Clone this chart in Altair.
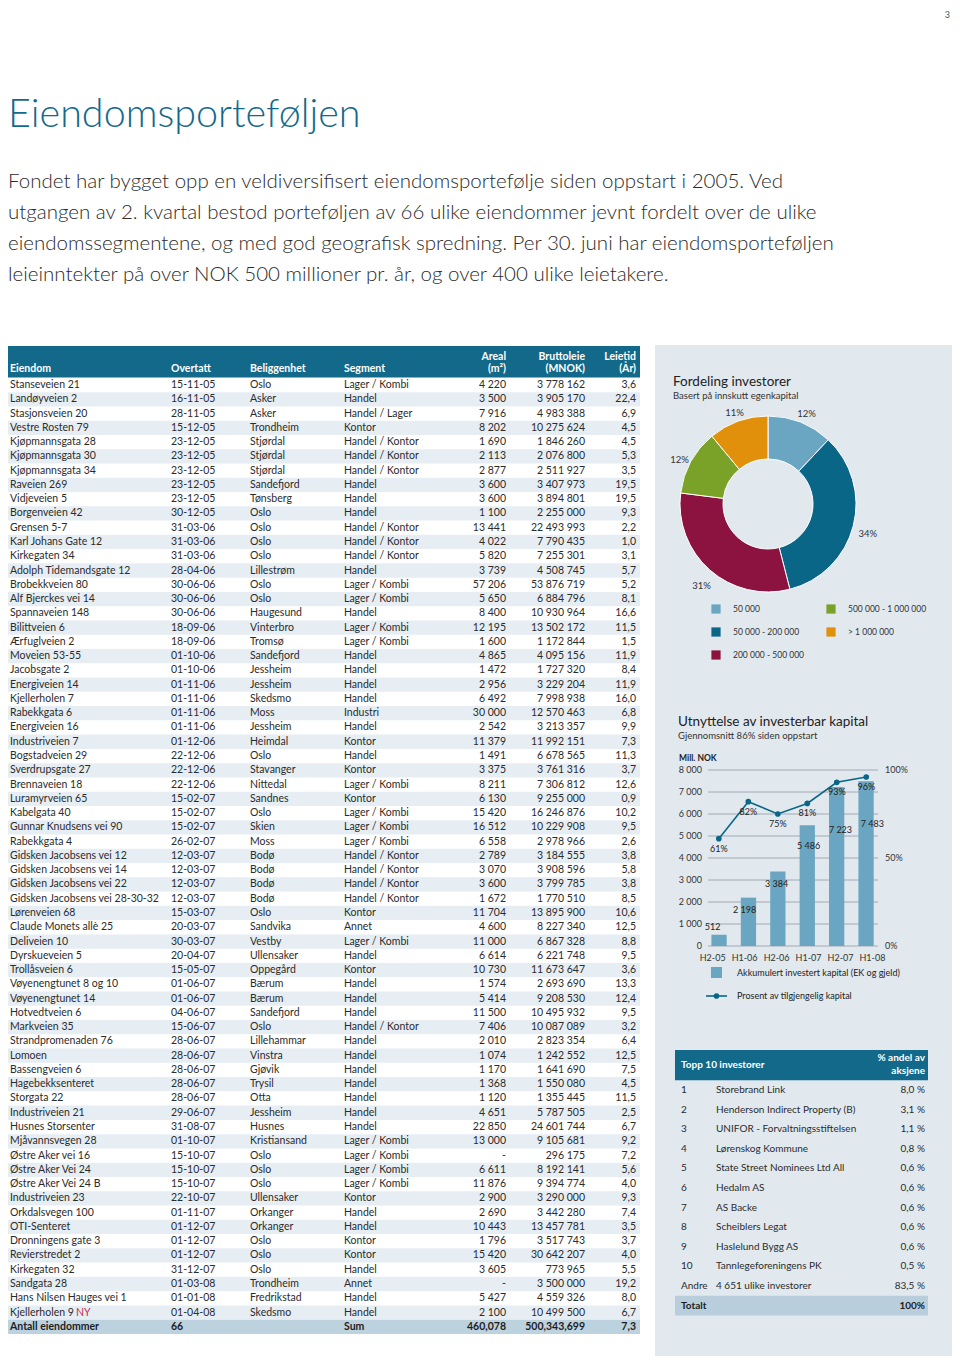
import altair as alt
import pandas as pd

FONT = "Lato"
TEAL = "#13698a"
TXT = "#2b2b2b"
PANEL = "#e1e9ef"

# ---------------- text ----------------
page_title = "Eiendomsporteføljen"
intro_lines = [
    "Fondet har bygget opp en veldiversifisert eiendomsportefølje siden oppstart i 2005. Ved",
    "utgangen av 2. kvartal bestod porteføljen av 66 ulike eiendommer jevnt fordelt over de ulike",
    "eiendomssegmentene, og med god geografisk spredning. Per 30. juni har eiendomsporteføljen",
    "leieinntekter på over NOK 500 millioner pr. år, og over 400 ulike leietakere.",
]

# ---------------- main table ----------------
eiendom = [
    "Stanseveien 21", "Landøyveien 2", "Stasjonsveien 20", "Vestre Rosten 79", "Kjøpmannsgata 28",
    "Kjøpmannsgata 30", "Kjøpmannsgata 34", "Raveien 269", "Vidjeveien 5", "Borgenveien 42",
    "Grensen 5-7", "Karl Johans Gate 12", "Kirkegaten 34", "Adolph Tidemandsgate 12", "Brobekkveien 80",
    "Alf Bjerckes vei 14", "Spannaveien 148", "Bilittveien 6", "Ærfuglveien 2", "Moveien 53-55",
    "Jacobsgate 2", "Energiveien 14", "Kjellerholen 7", "Rabekkgata 6", "Energiveien 16",
    "Industriveien 7", "Bogstadveien 29", "Sverdrupsgate 27", "Brennaveien 18", "Luramyrveien 65",
    "Kabelgata 40", "Gunnar Knudsens vei 90", "Rabekkgata 4", "Gidsken Jacobsens vei 12",
    "Gidsken Jacobsens vei 14", "Gidsken Jacobsens vei 22", "Gidsken Jacobsens vei 28-30-32",
    "Lørenveien 68", "Claude Monets allè 25", "Deliveien 10", "Dyrskueveien 5", "Trollåsveien 6",
    "Vøyenengtunet 8 og 10", "Vøyenengtunet 14", "Hotvedtveien 6", "Markveien 35",
    "Strandpromenaden 76", "Lomoen", "Bassengveien 6", "Hagebekksenteret", "Storgata 22",
    "Industriveien 21", "Husnes Storsenter", "Mjåvannsvegen 28", "Østre Aker vei 16",
    "Østre Aker Vei 24", "Østre Aker Vei 24 B", "Industriveien 23", "Orkdalsvegen 100",
    "OTI-Senteret", "Dronningens gate 3", "Revierstredet 2", "Kirkegaten 32", "Sandgata 28",
    "Hans Nilsen Hauges vei 1", "Kjellerholen 9",
]
overtatt = [
    "15-11-05", "16-11-05", "28-11-05", "15-12-05", "23-12-05", "23-12-05", "23-12-05", "23-12-05",
    "23-12-05", "30-12-05", "31-03-06", "31-03-06", "31-03-06", "28-04-06", "30-06-06", "30-06-06",
    "30-06-06", "18-09-06", "18-09-06", "01-10-06", "01-10-06", "01-11-06", "01-11-06", "01-11-06",
    "01-11-06", "01-12-06", "22-12-06", "22-12-06", "22-12-06", "15-02-07", "15-02-07", "15-02-07",
    "26-02-07", "12-03-07", "12-03-07", "12-03-07", "12-03-07", "15-03-07", "20-03-07", "30-03-07",
    "20-04-07", "15-05-07", "01-06-07", "01-06-07", "04-06-07", "15-06-07", "28-06-07", "28-06-07",
    "28-06-07", "28-06-07", "28-06-07", "29-06-07", "31-08-07", "01-10-07", "15-10-07", "15-10-07",
    "15-10-07", "22-10-07", "01-11-07", "01-12-07", "01-12-07", "01-12-07", "31-12-07", "01-03-08",
    "01-01-08", "01-04-08",
]
beliggenhet = [
    "Oslo", "Asker", "Asker", "Trondheim", "Stjørdal", "Stjørdal", "Stjørdal", "Sandefjord",
    "Tønsberg", "Oslo", "Oslo", "Oslo", "Oslo", "Lillestrøm", "Oslo", "Oslo", "Haugesund",
    "Vinterbro", "Tromsø", "Sandefjord", "Jessheim", "Jessheim", "Skedsmo", "Moss", "Jessheim",
    "Heimdal", "Oslo", "Stavanger", "Nittedal", "Sandnes", "Oslo", "Skien", "Moss", "Bodø", "Bodø",
    "Bodø", "Bodø", "Oslo", "Sandvika", "Vestby", "Ullensaker", "Oppegård", "Bærum", "Bærum",
    "Sandefjord", "Oslo", "Lillehammar", "Vinstra", "Gjøvik", "Trysil", "Otta", "Jessheim",
    "Husnes", "Kristiansand", "Oslo", "Oslo", "Oslo", "Ullensaker", "Orkanger", "Orkanger", "Oslo",
    "Oslo", "Oslo", "Trondheim", "Fredrikstad", "Skedsmo",
]
segment = [
    "Lager / Kombi", "Handel", "Handel / Lager", "Kontor", "Handel / Kontor", "Handel / Kontor",
    "Handel / Kontor", "Handel", "Handel", "Handel", "Handel / Kontor", "Handel / Kontor",
    "Handel / Kontor", "Handel", "Lager / Kombi", "Lager / Kombi", "Handel", "Lager / Kombi",
    "Lager / Kombi", "Handel", "Handel", "Handel", "Handel", "Industri", "Handel", "Kontor",
    "Handel", "Kontor", "Lager / Kombi", "Kontor", "Lager / Kombi", "Lager / Kombi", "Lager / Kombi",
    "Handel / Kontor", "Handel / Kontor", "Handel / Kontor", "Handel / Kontor", "Kontor", "Annet",
    "Lager / Kombi", "Handel", "Kontor", "Handel", "Handel", "Handel", "Handel / Kontor", "Handel",
    "Handel", "Handel", "Handel", "Handel", "Handel", "Handel", "Lager / Kombi", "Lager / Kombi",
    "Lager / Kombi", "Lager / Kombi", "Kontor", "Handel", "Handel", "Kontor", "Kontor", "Handel",
    "Annet", "Handel", "Handel",
]
areal = [
    4220, 3500, 7916, 8202, 1690, 2113, 2877, 3600, 3600, 1100, 13441, 4022, 5820, 3739, 57206,
    5650, 8400, 12195, 1600, 4865, 1472, 2956, 6492, 30000, 2542, 11379, 1491, 3375, 8211, 6130,
    15420, 16512, 6558, 2789, 3070, 3600, 1672, 11704, 4600, 11000, 6614, 10730, 1574, 5414, 11500,
    7406, 2010, 1074, 1170, 1368, 1120, 4651, 22850, 13000, None, 6611, 11876, 2900, 2690, 10443,
    1796, 15420, 3605, None, 5427, 2100,
]
bruttoleie = [
    3778162, 3905170, 4983388, 10275624, 1846260, 2076800, 2511927, 3407973, 3894801, 2255000,
    22493993, 7790435, 7255301, 4508745, 53876719, 6884796, 10930964, 13502172, 1172844, 4095156,
    1727320, 3229204, 7998938, 12570463, 3213357, 11992151, 6678565, 3761316, 7306812, 9255000,
    16246876, 10229908, 2978966, 3184555, 3908596, 3799785, 1770510, 13895900, 8227340, 6867328,
    6221748, 11673647, 2693690, 9208530, 10495932, 10087089, 2823354, 1242552, 1641690, 1550080,
    1355445, 5787505, 24601744, 9105681, 296175, 8192141, 9394774, 3290000, 3442280, 13457781,
    3517743, 30642207, 773965, 3500000, 4559326, 10499500,
]
leietid = [
    3.6, 22.4, 6.9, 4.5, 4.5, 5.3, 3.5, 19.5, 19.5, 9.3, 2.2, 1.0, 3.1, 5.7, 5.2, 8.1, 16.6, 11.5,
    1.5, 11.9, 8.4, 11.9, 16.0, 6.8, 9.9, 7.3, 11.3, 3.7, 12.6, 0.9, 10.2, 9.5, 2.6, 3.8, 5.8, 3.8,
    8.5, 10.6, 12.5, 8.8, 9.5, 3.6, 13.3, 12.4, 9.5, 3.2, 6.4, 12.5, 7.5, 4.5, 11.5, 2.5, 6.7, 9.2,
    7.2, 5.6, 4.0, 9.3, 7.4, 3.5, 3.7, 4.0, 5.5, 19.2, 8.0, 6.7,
]
sum_row = ["Antall eiendommer", "66", "", "Sum", "460,078", "500,343,699", "7,3"]
new_flag_row = 65

# ---------------- donut ----------------
donut_labels = ["50 000", "50 000 - 200 000", "200 000 - 500 000", "500 000 - 1 000 000", "> 1 000 000"]
donut_share = [12, 34, 31, 12, 11]
donut_colors = ["#6aa6c1", "#0a6686", "#8c1340", "#7aa229", "#e0900a"]

# ---------------- bar + line ----------------
periods = ["H2-05", "H1-06", "H2-06", "H1-07", "H2-07", "H1-08"]
capital = [512, 2198, 3384, 5486, 7223, 7483]
pct = [61, 82, 75, 81, 93, 96]
cap_ticks = [0, 1000, 2000, 3000, 4000, 5000, 6000, 7000, 8000]
pct_ticks = [0, 50, 100]

# ---------------- top 10 ----------------
top_rank = ["1", "2", "3", "4", "5", "6", "7", "8", "9", "10", "Andre"]
top_name = ["Storebrand Link", "Henderson Indirect Property (B)", "UNIFOR - Forvaltningsstiftelsen",
            "Lørenskog Kommune", "State Street Nominees Ltd All", "Hedalm AS", "AS Backe",
            "Scheiblers Legat", "Haslelund Bygg AS", "Tannlegeforeningens PK", "4 651 ulike investorer"]
top_share = [8.0, 3.1, 1.1, 0.8, 0.6, 0.6, 0.6, 0.6, 0.6, 0.5, 83.5]


def fmt_int(v):
    return "-" if v is None else f"{v:,}".replace(",", " ")


def fmt_dec(v):
    return f"{v:.1f}".replace(".", ",")


one = pd.DataFrame({"k": [0]})
L = []


def deco_rect(x0, x1, y0, y1, color):
    return alt.Chart(one).mark_rect(color=color).encode(
        x=alt.value(x0), x2=alt.value(x1), y=alt.value(y0), y2=alt.value(y1))


def label(text, x, y, size, color=TXT, align="left", weight="normal"):
    d = pd.DataFrame({"t": [text]})
    return alt.Chart(d).mark_text(align=align, baseline="middle", fontSize=size, color=color,
                                  fontWeight=weight, font=FONT).encode(
        x=alt.value(x), y=alt.value(y), text="t:N")


# page number, title, intro
L.append(label("3", 942, 7, 9, color="#555", align="right"))
L.append(label(page_title, 0, 107, 39.5, color=TEAL, weight=300))
intro = pd.DataFrame({"line": list(range(len(intro_lines))), "t": intro_lines})
L.append(alt.Chart(intro).mark_text(align="left", baseline="middle", fontSize=20.5, color=TXT,
                                    font=FONT, fontWeight=300).encode(
    x=alt.value(0),
    y=alt.Y("line:Q", scale=alt.Scale(domain=[0, 3], range=[174, 267], nice=False, zero=False), axis=None),
    text="t:N"))

# right panel background
L.append(deco_rect(647, 944, 337, 1356, PANEL))

# ---- main table ----
tbl = pd.DataFrame({
    "i": list(range(66)),
    "Eiendom": eiendom, "Overtatt": overtatt, "Beliggenhet": beliggenhet, "Segment": segment,
    "Areal": [fmt_int(v) for v in areal],
    "Bruttoleie": [fmt_int(v) for v in bruttoleie],
    "Leietid": [fmt_dec(v) for v in leietid],
})
tbl["lo"] = tbl["i"] - 0.5
tbl["hi"] = tbl["i"] + 0.5
cols = ["Eiendom", "Overtatt", "Beliggenhet", "Segment", "Areal", "Bruttoleie", "Leietid"]
sumdf = pd.DataFrame({c: [v] for c, v in zip(cols, sum_row)})
sumdf["i"] = 66
sumdf["lo"] = 65.5
sumdf["hi"] = 66.5

ROWSCALE = dict(domain=[0, 66], range=[377, 1318.8], nice=False, zero=False)

L.append(deco_rect(0, 632, 338, 369.5, TEAL))
L.append(alt.Chart(tbl).transform_filter("datum.i % 2 == 1").mark_rect(color="#e6eef4").encode(
    x=alt.value(0), x2=alt.value(632),
    y=alt.Y("lo:Q", scale=alt.Scale(**ROWSCALE), axis=None), y2="hi:Q"))
L.append(alt.Chart(sumdf).mark_rect(color="#bdd2df").encode(
    x=alt.value(0), x2=alt.value(632),
    y=alt.Y("lo:Q", scale=alt.Scale(**ROWSCALE), axis=None), y2="hi:Q"))

col_x = {"Eiendom": (2, "left"), "Overtatt": (163, "left"), "Beliggenhet": (242, "left"),
         "Segment": (336, "left"), "Areal": (498, "right"), "Bruttoleie": (577, "right"),
         "Leietid": (628, "right")}
two_line = {"Areal": ("Areal", "(m²)"), "Bruttoleie": ("Bruttoleie", "(MNOK)"), "Leietid": ("Leietid", "(År)")}

for c in cols:
    x, al = col_x[c]
    if c in two_line:
        L.append(label(two_line[c][0], x, 348.5, 10.5, color="white", align=al, weight="bold"))
        L.append(label(two_line[c][1], x, 361, 10.5, color="white", align=al, weight="bold"))
    else:
        L.append(label(c, x, 361, 10.5, color="white", align=al, weight="bold"))
    L.append(alt.Chart(tbl).mark_text(align=al, baseline="middle", fontSize=10.5, color=TXT,
                                      font=FONT).encode(
        x=alt.value(x),
        y=alt.Y("i:Q", scale=alt.Scale(**ROWSCALE), axis=None),
        text=f"{c}:N"))
    L.append(alt.Chart(sumdf).mark_text(align=al, baseline="middle", fontSize=10.5, color="#1d1d1d",
                                        font=FONT, fontWeight="bold").encode(
        x=alt.value(x),
        y=alt.Y("i:Q", scale=alt.Scale(**ROWSCALE), axis=None),
        text=f"{c}:N"))

newdf = pd.DataFrame({"i": [new_flag_row], "t": ["NY"]})
L.append(alt.Chart(newdf).mark_text(align="left", baseline="middle", fontSize=10.5, color="#c0304f",
                                    font=FONT).encode(
    x=alt.value(68), y=alt.Y("i:Q", scale=alt.Scale(**ROWSCALE), axis=None), text="t:N"))

# ---- donut ----
L.append(label("Fordeling investorer", 665, 374, 13.5, color="#222"))
L.append(label("Basert på innskutt egenkapital", 665, 388, 9.5, color="#333"))
dn = pd.DataFrame({"idx": list(range(5)), "label": donut_labels, "share": donut_share,
                   "pl": [f"{v}%" for v in donut_share]})
cscale = alt.Scale(domain=donut_labels, range=donut_colors)
L.append(alt.Chart(dn).mark_arc(innerRadius=45, outerRadius=88, stroke="white", strokeWidth=1).encode(
    x=alt.value(760), y=alt.value(496),
    theta=alt.Theta("share:Q", stack=True),
    color=alt.Color("label:N", scale=cscale, legend=None),
    order=alt.Order("idx:Q")))
L.append(alt.Chart(dn).mark_text(radius=102, fontSize=9.5, color="#333", font=FONT).encode(
    x=alt.value(761), y=alt.value(501),
    theta=alt.Theta("share:Q", stack=True),
    order=alt.Order("idx:Q"),
    text="pl:N"))
lg = pd.DataFrame({"label": donut_labels, "col": [0, 0, 0, 1, 1], "row": [0, 1, 2, 0, 1]})
lgx = alt.Scale(domain=[0, 1], range=[708, 823], nice=False, zero=False)
lgy = alt.Scale(domain=[0, 2], range=[601, 647], nice=False, zero=False)
L.append(alt.Chart(lg).mark_point(shape="square", filled=True, size=85, opacity=1).encode(
    x=alt.X("col:Q", scale=lgx, axis=None), y=alt.Y("row:Q", scale=lgy, axis=None),
    color=alt.Color("label:N", scale=cscale, legend=None)))
L.append(alt.Chart(lg).mark_text(align="left", baseline="middle", dx=17, fontSize=8.5, color="#333",
                                 font=FONT).encode(
    x=alt.X("col:Q", scale=lgx, axis=None), y=alt.Y("row:Q", scale=lgy, axis=None), text="label:N"))

# ---- bar + line chart ----
L.append(label("Utnyttelse av investerbar kapital", 670, 714, 13.5, color="#222"))
L.append(label("Gjennomsnitt 86% siden oppstart", 670, 728, 9.5, color="#333"))
L.append(label("Mill. NOK", 671, 750, 8.5, color="#222", weight="bold"))

YB = dict(domain=[0, 8000], range=[938, 762], nice=False, zero=True)
YP = dict(domain=[0, 100], range=[938, 762], nice=False, zero=True)
XB = dict(domain=periods, range=[688.7, 880.4], paddingInner=0.48, paddingOuter=0.5)
XP = dict(type="point", domain=periods, range=[688.7, 880.4], padding=0.75)

gt = pd.DataFrame({"v": cap_ticks, "t": [fmt_int(v) for v in cap_ticks]})
L.append(alt.Chart(gt).mark_rule(color="#8f9ba4", strokeWidth=0.8).encode(
    x=alt.value(700), x2=alt.value(870), y=alt.Y("v:Q", scale=alt.Scale(**YB), axis=None)))
L.append(alt.Chart(gt).mark_text(align="right", baseline="middle", fontSize=9, color="#333",
                                 font=FONT).encode(
    x=alt.value(694), y=alt.Y("v:Q", scale=alt.Scale(**YB), axis=None), text="t:N"))
pt = pd.DataFrame({"v": pct_ticks, "t": [f"{v}%" for v in pct_ticks]})
L.append(alt.Chart(pt).mark_text(align="left", baseline="middle", fontSize=9, color="#333",
                                 font=FONT).encode(
    x=alt.value(877), y=alt.Y("v:Q", scale=alt.Scale(**YP), axis=None), text="t:N"))

bd = pd.DataFrame({"p": periods, "cap": capital, "pct": pct,
                   "ct": [fmt_int(v) for v in capital], "pt": [f"{v}%" for v in pct]})
L.append(alt.Chart(bd).mark_bar(color="#6aa6c1").encode(
    x=alt.X("p:N", scale=alt.Scale(**XB), axis=None, sort=periods),
    y=alt.Y("cap:Q", scale=alt.Scale(**YB), axis=None)))
for cond, dy in [("datum.cap < 1000", -8), ("datum.cap >= 1000 && datum.cap < 5000", 12),
                 ("datum.cap >= 5000 && datum.cap < 7000", 21), ("datum.cap >= 7000", 43)]:
    L.append(alt.Chart(bd).transform_filter(cond).mark_text(
        baseline="middle", dy=dy, fontSize=9, color="#222", font=FONT).encode(
        x=alt.X("p:N", scale=alt.Scale(**XB), axis=None, sort=periods),
        y=alt.Y("cap:Q", scale=alt.Scale(**YB), axis=None), text="ct:N"))
L.append(alt.Chart(bd).mark_line(color="#0a6686", strokeWidth=1.6).encode(
    x=alt.X("p:N", scale=alt.Scale(**XP), axis=None, sort=periods),
    y=alt.Y("pct:Q", scale=alt.Scale(**YP), axis=None)))
L.append(alt.Chart(bd).mark_point(color="#0a6686", filled=True, size=32, opacity=1).encode(
    x=alt.X("p:N", scale=alt.Scale(**XP), axis=None, sort=periods),
    y=alt.Y("pct:Q", scale=alt.Scale(**YP), axis=None)))
L.append(alt.Chart(bd).mark_text(baseline="middle", dy=10, fontSize=9, color="#222", font=FONT).encode(
    x=alt.X("p:N", scale=alt.Scale(**XP), axis=None, sort=periods),
    y=alt.Y("pct:Q", scale=alt.Scale(**YP), axis=None), text="pt:N"))
L.append(alt.Chart(bd).mark_text(baseline="middle", fontSize=9, color="#333", font=FONT).encode(
    x=alt.X("p:N", scale=alt.Scale(**XB), axis=None, sort=periods),
    y=alt.value(950), text="p:N"))

# bar chart legend
L.append(deco_rect(703, 714, 959, 970, "#6aa6c1"))
L.append(label("Akkumulert investert kapital (EK og gjeld)", 729, 965, 9, color="#222"))
L.append(alt.Chart(one).mark_rule(color="#0a6686", strokeWidth=1.6).encode(
    x=alt.value(698), x2=alt.value(719), y=alt.value(988)))
L.append(alt.Chart(one).mark_point(color="#0a6686", filled=True, size=32, opacity=1).encode(
    x=alt.value(708.5), y=alt.value(988)))
L.append(label("Prosent av tilgjengelig kapital", 729, 988, 9, color="#222"))

# ---- top 10 table ----
top = pd.DataFrame({"i": list(range(11)), "r": top_rank, "n": top_name,
                    "s": [fmt_dec(v) + " %" for v in top_share]})
top["lo"] = top["i"] - 0.5
top["hi"] = top["i"] + 0.5
tot = pd.DataFrame({"i": [11], "lo": [10.5], "hi": [11.5], "r": ["Totalt"], "s": ["100%"]})
TS = dict(domain=[0, 11], range=[1082, 1297.6], nice=False, zero=False)

L.append(deco_rect(667, 920, 1042, 1072.2, TEAL))
L.append(label("Topp 10 investorer", 673, 1057, 10, color="white", weight="bold"))
L.append(label("% andel av", 917, 1050, 10, color="white", align="right", weight="bold"))
L.append(label("aksjene", 917, 1063, 10, color="white", align="right", weight="bold"))
L.append(alt.Chart(top).transform_calculate(odd="datum.i % 2").mark_rect().encode(
    x=alt.value(667), x2=alt.value(920),
    y=alt.Y("lo:Q", scale=alt.Scale(**TS), axis=None), y2="hi:Q",
    color=alt.Color("odd:N", scale=alt.Scale(domain=["0", "1"], range=["#ffffff", "#edf2f6"]),
                    legend=None)))
L.append(alt.Chart(tot).mark_rect(color="#b8cedc").encode(
    x=alt.value(667), x2=alt.value(920),
    y=alt.Y("lo:Q", scale=alt.Scale(**TS), axis=None), y2="hi:Q"))
for fld, x, al in [("r", 673, "left"), ("n", 708, "left"), ("s", 917, "right")]:
    L.append(alt.Chart(top).mark_text(align=al, baseline="middle", fontSize=10, color=TXT,
                                      font=FONT).encode(
        x=alt.value(x), y=alt.Y("i:Q", scale=alt.Scale(**TS), axis=None), text=f"{fld}:N"))
for fld, x, al in [("r", 673, "left"), ("s", 917, "right")]:
    L.append(alt.Chart(tot).mark_text(align=al, baseline="middle", fontSize=10, color="#1d1d1d",
                                      font=FONT, fontWeight="bold").encode(
        x=alt.value(x), y=alt.Y("i:Q", scale=alt.Scale(**TS), axis=None), text=f"{fld}:N"))

chart = alt.layer(*L).resolve_scale(
    x="independent", y="independent", color="independent", theta="independent"
).properties(
    width=944, height=1348, padding=0, autosize=alt.AutoSizeParams(type="none")
).configure(font=FONT).configure_view(stroke=None, strokeWidth=0)

chart.save("out.html", embed_options={"renderer": "svg", "actions": False})
